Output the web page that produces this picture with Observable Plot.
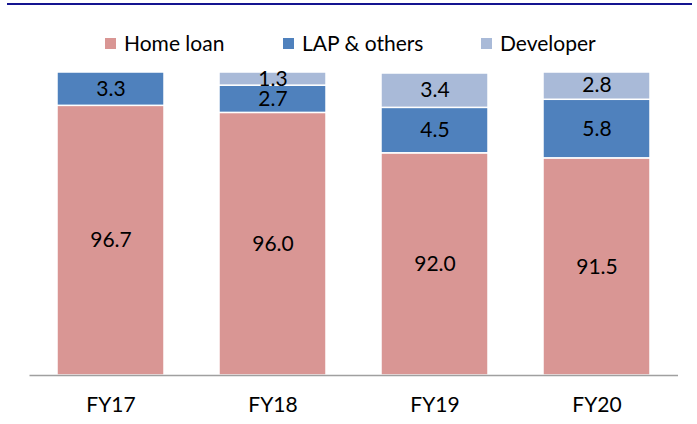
<!DOCTYPE html>
<html>
<head>
<meta charset="utf-8">
<script src="https://cdn.jsdelivr.net/npm/d3@7"></script>
<script src="https://cdn.jsdelivr.net/npm/@observablehq/plot@0.6"></script>
<style>
  html, body { margin: 0; padding: 0; background: #fff; }
  body { width: 697px; height: 424px; overflow: hidden; font-family: Lato, "Noto Sans", sans-serif; }
  .topline { margin: 3px 0 0 7px; width: 685px; height: 0; border-top: 2px solid #141490; }
  .legend { position: relative; height: 57px; font-size: 21px; color: #000; }
  .item { position: absolute; top: 26px; height: 24px; line-height: 24px; white-space: nowrap; }
  .sw { position: absolute; top: 7px; width: 11px; height: 11px; }
  .lbl { position: absolute; top: 0; }
  #chart svg { display: block; }
</style>
</head>
<body>
<div class="topline"></div>
<div class="legend" id="legend"></div>
<div id="chart"></div>
<script>
const years = ["FY17", "FY18", "FY19", "FY20"];
const series = ["Home loan", "LAP & others", "Developer"];
const homeLoan = [96.7, 96.0, 92.0, 91.5];
const lapOthers = [3.3, 2.7, 4.5, 5.8];
const developer = [0, 1.3, 3.4, 2.8];
const colors = ["#D99694", "#4F81BD", "#A9BAD8"];
const yMin = 70;

const values = [homeLoan, lapOthers, developer];
const rows = [];
years.forEach((yr, i) => {
  let acc = 0;
  series.forEach((s, j) => {
    const v = values[j][i];
    const y1 = acc, y2 = acc + v;
    acc = y2;
    rows.push({year: yr, series: s, value: v, y1, y2, mid: (Math.max(y1, yMin) + y2) / 2});
  });
});

// legend
const legendPos = [105, 283, 481];
const legend = document.getElementById("legend");
series.forEach((s, j) => {
  const it = document.createElement("div");
  it.className = "item";
  it.style.left = legendPos[j] + "px";
  it.innerHTML = `<span class="sw" style="left:0;background:${colors[j]}"></span><span class="lbl" style="left:19px">${s.replace("&", "&amp;")}</span>`;
  legend.appendChild(it);
});

const chart = Plot.plot({
  width: 697,
  height: 362,
  marginTop: 10,
  marginBottom: 49,
  marginLeft: 29.5,
  marginRight: 19,
  style: {fontFamily: "Lato, 'Noto Sans', sans-serif", fontSize: "21px", color: "#000", background: "white"},
  x: {domain: years, paddingInner: 0.338, paddingOuter: 0.167, tickSize: 0, tickPadding: 22, label: null},
  y: {domain: [yMin, 100], clamp: true, axis: null},
  color: {domain: series, range: colors},
  marks: [
    Plot.barY(rows.filter(d => d.value > 0), {
      x: "year", y1: "y1", y2: "y2", fill: "series",
      stroke: "white", strokeWidth: 1.5,
      style: "filter: drop-shadow(1px 1px 1.5px rgba(0,0,0,0.25))"
    }),
    Plot.text(rows.filter(d => d.value > 0), {
      x: "year", y: "mid", text: d => d.value.toFixed(1), fontSize: 21, fill: "black"
    }),
    Plot.ruleY([yMin], {stroke: "#A0A0A0", strokeWidth: 1.5})
  ]
});
document.getElementById("chart").appendChild(chart);
</script>
</body>
</html>
